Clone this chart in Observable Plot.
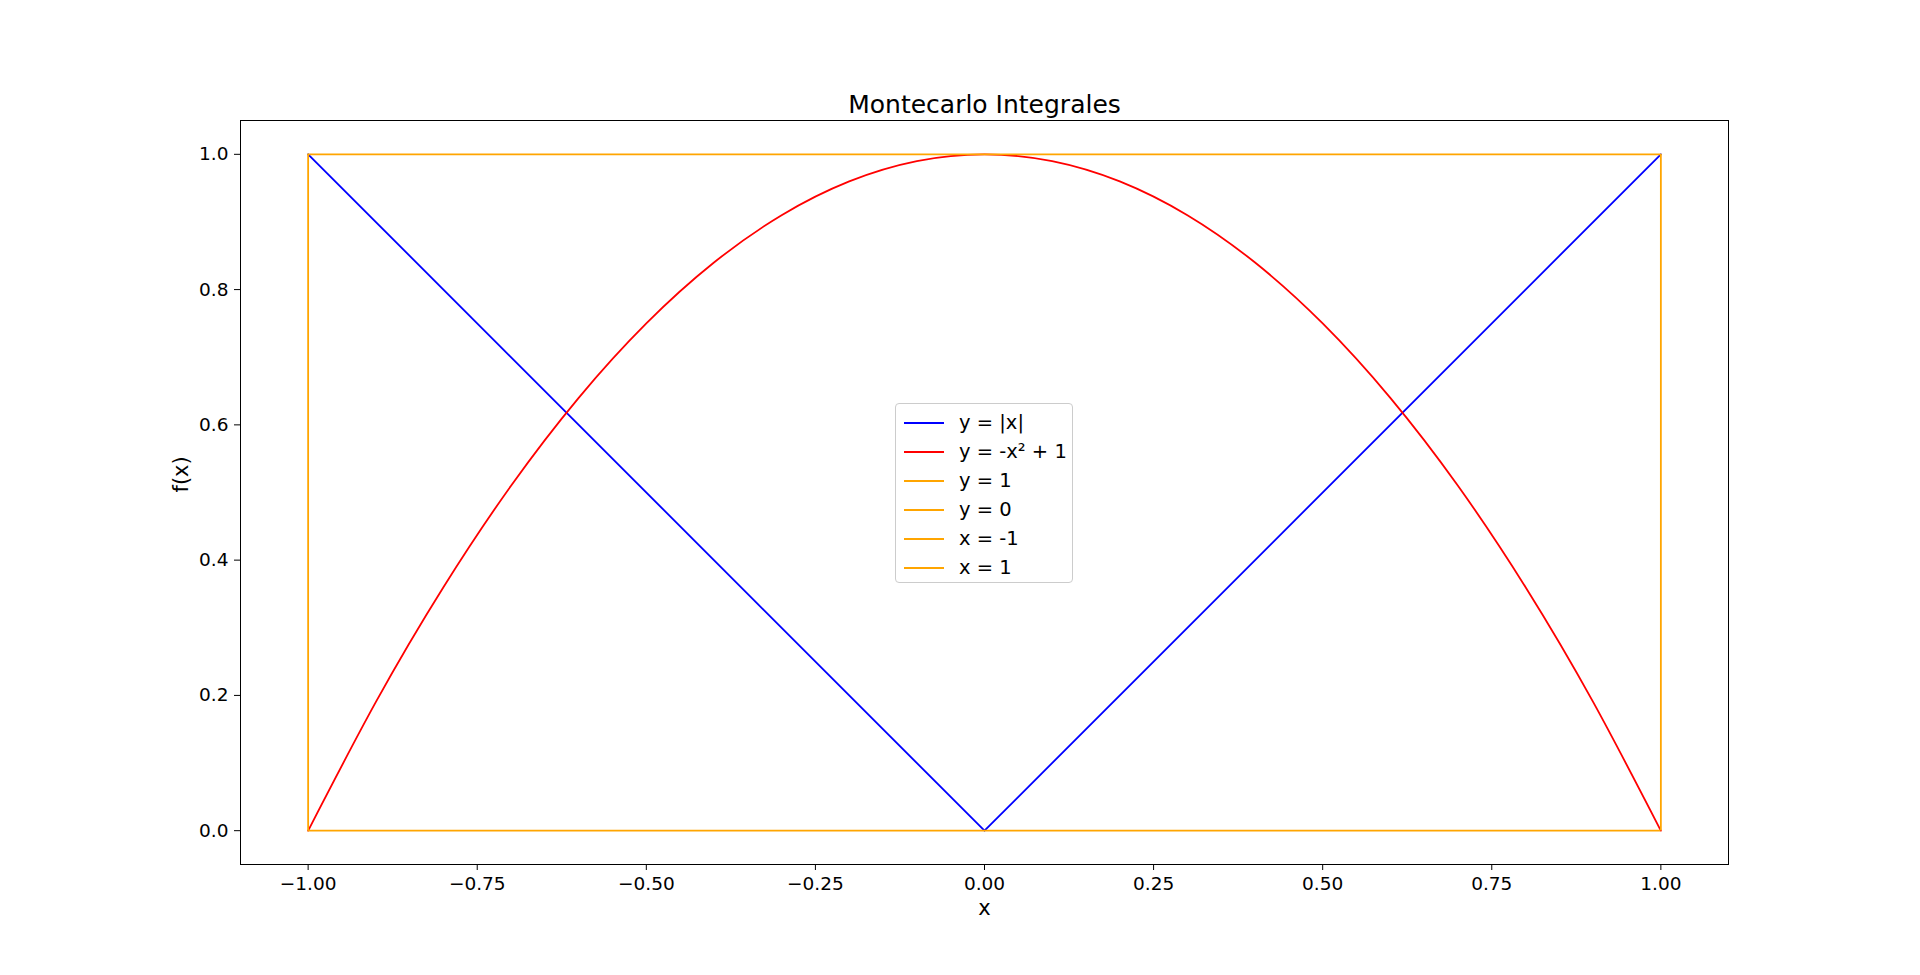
<!DOCTYPE html>
<html><head><meta charset="utf-8">
<script src="https://cdn.jsdelivr.net/npm/d3@7"></script>
<script src="https://cdn.jsdelivr.net/npm/@observablehq/plot@0.6"></script>
<style>body{margin:0;background:#fff;font-family:"DejaVu Sans";}#wrap{position:relative;width:1920px;height:975px}
#legend{position:absolute;left:895px;top:403px;width:178px;height:180px;border:1px solid #ccc;border-radius:4px;background:#fff;box-sizing:border-box;padding:4px 0 0 8px;font-size:19.5px}
.row{display:flex;align-items:center;height:29px}.sw{width:40px;height:2px;margin-right:15px}</style>
</head><body><div id="wrap"></div>
<script>
const xs = [-1,-0.9,-0.8,-0.7,-0.6,-0.5,-0.4,-0.3,-0.2,-0.1,0,0.1,0.2,0.3,0.4,0.5,0.6,0.7,0.8,0.9,1];
const parabola = [0,0.19,0.36,0.51,0.64,0.75,0.84,0.91,0.96,0.99,1,0.99,0.96,0.91,0.84,0.75,0.64,0.51,0.36,0.19,0];
const absX = [-1,0,1];
const absY = [1,0,1];
const seriesNames = ["y = |x|","y = -x\u00b2 + 1","y = 1","y = 0","x = -1","x = 1"];
const seriesColors = ["blue","red","orange","orange","orange","orange"];
const xTicks = [-1,-0.75,-0.5,-0.25,0,0.25,0.5,0.75,1];
const yTicks = [0,0.2,0.4,0.6,0.8,1];

const par = xs.map((x,i)=>({x,y:parabola[i]}));
const ab = absX.map((x,i)=>({x,y:absY[i]}));
const fmt = d3.format(".2f"), fmt1 = d3.format(".1f");
const chart = Plot.plot({
  width:1920, height:975, marginLeft:240, marginRight:192, marginTop:120, marginBottom:111,
  style:{fontFamily:"DejaVu Sans", fontSize:"18px", background:"#fff"},
  x:{domain:[-1.1,1.1]}, y:{domain:[-0.05,1.05]},
  marks:[
    Plot.frame({stroke:"black"}),
    Plot.axisX({ticks:xTicks, tickFormat:fmt, tickSize:6, label:null, fontSize:18.5, tickPadding:6}),
    Plot.axisY({ticks:yTicks, tickFormat:fmt1, tickSize:6, label:null, fontSize:18.5, tickPadding:6}),
    Plot.line(ab,{x:"x",y:"y",stroke:seriesColors[0],strokeWidth:1.8}),
    Plot.line(par,{x:"x",y:"y",stroke:seriesColors[1],strokeWidth:1.8,curve:"natural"}),
    Plot.ruleY([1],{x1:-1,x2:1,stroke:seriesColors[2],strokeWidth:1.8}),
    Plot.ruleY([0],{x1:-1,x2:1,stroke:seriesColors[3],strokeWidth:1.8}),
    Plot.ruleX([-1],{y1:0,y2:1,stroke:seriesColors[4],strokeWidth:1.8}),
    Plot.ruleX([1],{y1:0,y2:1,stroke:seriesColors[5],strokeWidth:1.8}),
    Plot.text(["Montecarlo Integrales"],{frameAnchor:"top",dy:-8,fontSize:25,textAnchor:"middle",lineAnchor:"bottom"}),
    Plot.text(["x"],{frameAnchor:"bottom",dy:44,fontSize:21,lineAnchor:"middle"}),
    Plot.text(["f(x)"],{frameAnchor:"left",dx:-59,fontSize:21,rotate:-90})
  ]
});
const wrap=document.getElementById("wrap");
wrap.appendChild(chart);
const lg=document.createElement("div");lg.id="legend";
seriesNames.forEach((n,i)=>{const r=document.createElement("div");r.className="row";
 r.innerHTML=`<span class="sw" style="background:${seriesColors[i]}"></span><span>${n}</span>`;lg.appendChild(r);});
wrap.appendChild(lg);
</script></body></html>
